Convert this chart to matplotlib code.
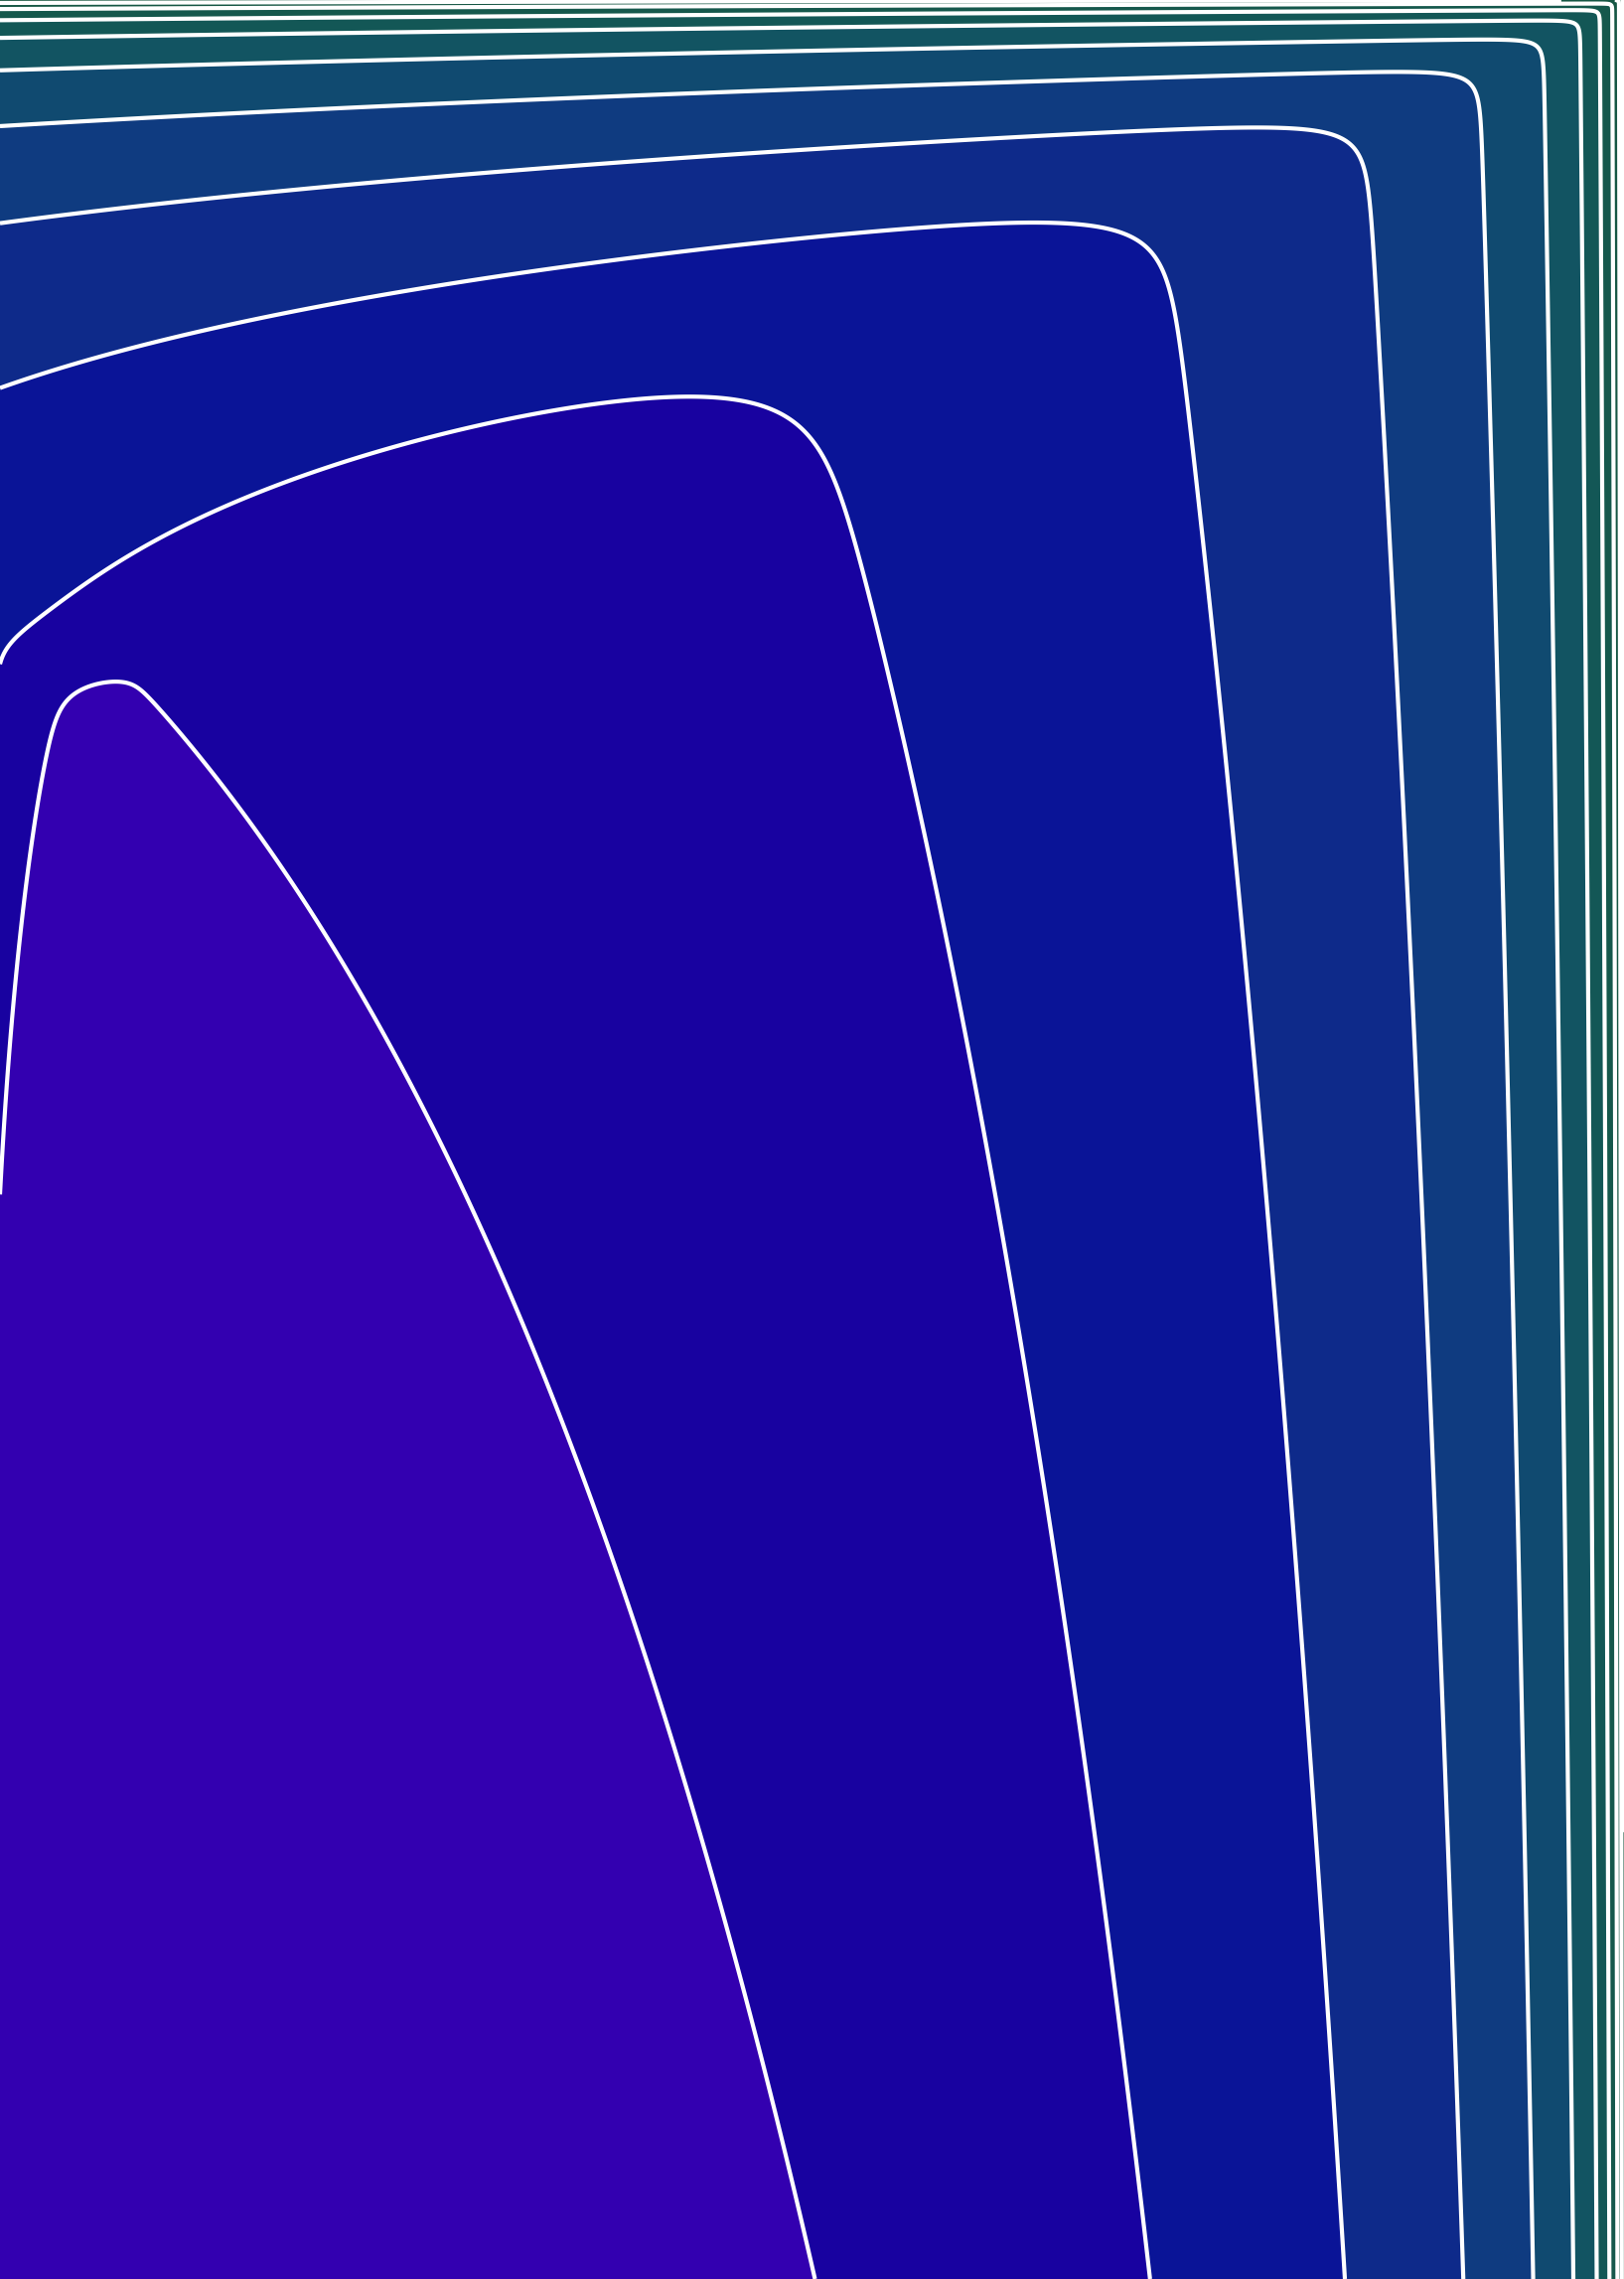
import numpy as np
import matplotlib
matplotlib.use("Agg")
import matplotlib.pyplot as plt

# ---- data --------------------------------------------------------------
# contour levels of the field (log scale), lowest first
LEVELS = [0.703, 1.235, 1.760, 2.304, 2.860, 3.418, 3.988, 4.529, 5.135,
          5.741, 6.347, 6.953, 7.559]
# fill colours of the bands (below first level ... above last level)
BAND_COLORS = ['#3300B0', '#1802A0', '#0A1497', '#0E2A8A', '#0F3B80',
               '#104A70', '#125462', '#135756', '#15584C', '#165744',
               '#17553E', '#185238', '#195034', '#1A4E30']
LINE_COLOR = 'white'

# parameters of the plotted surface  z(x, y)
EDGE_OFFSET = np.exp(-6.25255)           # distance of the singular edges
TOP_DECAY = [0.52600, 5.98569]           # gentle decay of the top wall
TOP_STEP = [18.11347, 0.29676, np.exp(-5.11646)]   # steep decay below the ridge
RIGHT_WALL = [0.01006, 0.45690, 0.30229, 0.01211]  # scale + tilt of right wall
RIGHT_KNEE = [4.21750, np.exp(-0.74797)]
CORNER_SHARPNESS = [1.74919, -0.21822]


def surface(u, v):
    p = 1 + EDGE_OFFSET - u
    q = 1 + EDGE_OFFSET - v
    k0, c1 = TOP_DECAY
    R, q0, tau = TOP_STEP
    with np.errstate(over='ignore'):
        step = R / (1 + np.exp(np.clip(-(q - q0) / tau, -700, 700)))
    rate = k0 * np.exp(c1 * q) + step
    logA = -rate * u - np.log(q)
    lb0, l0, l1, l2 = RIGHT_WALL
    c, w2 = RIGHT_KNEE
    xb = 1 - p / c
    vc = 0.5 * (xb + np.sqrt(xb * xb + w2 * w2)) + 0.01
    logB = lb0 + (l0 + l1 * p + l2 * p * p) * v / vc - np.log(p)
    m = np.exp(CORNER_SHARPNESS[0] + CORNER_SHARPNESS[1] * q)
    mx = np.maximum(logA, logB)
    return mx + np.log(np.exp(m * (logA - mx)) + np.exp(m * (logB - mx))) / m


# ---- figure ------------------------------------------------------------
W, H = 1635, 2294
fig = plt.figure(figsize=(W / 100, H / 100), dpi=100)
ax = fig.add_axes([0, 0, 1, 1])

x = np.linspace(0, 1, 1200)
y = np.linspace(0, 1, 1680)
X, Y = np.meshgrid(x, y)
Z = surface(X, Y)

bounds = [-1e3] + LEVELS + [1e3]
ax.contourf(X, Y, Z, levels=bounds, colors=BAND_COLORS[:len(bounds) - 1],
            antialiased=True)
ax.contour(X, Y, Z, levels=LEVELS, colors=LINE_COLOR, linewidths=3.0)

ax.set_xlim(0, 1)
ax.set_ylim(0, 1)
ax.axis('off')
fig.savefig('out.png', dpi=100, facecolor='white')
